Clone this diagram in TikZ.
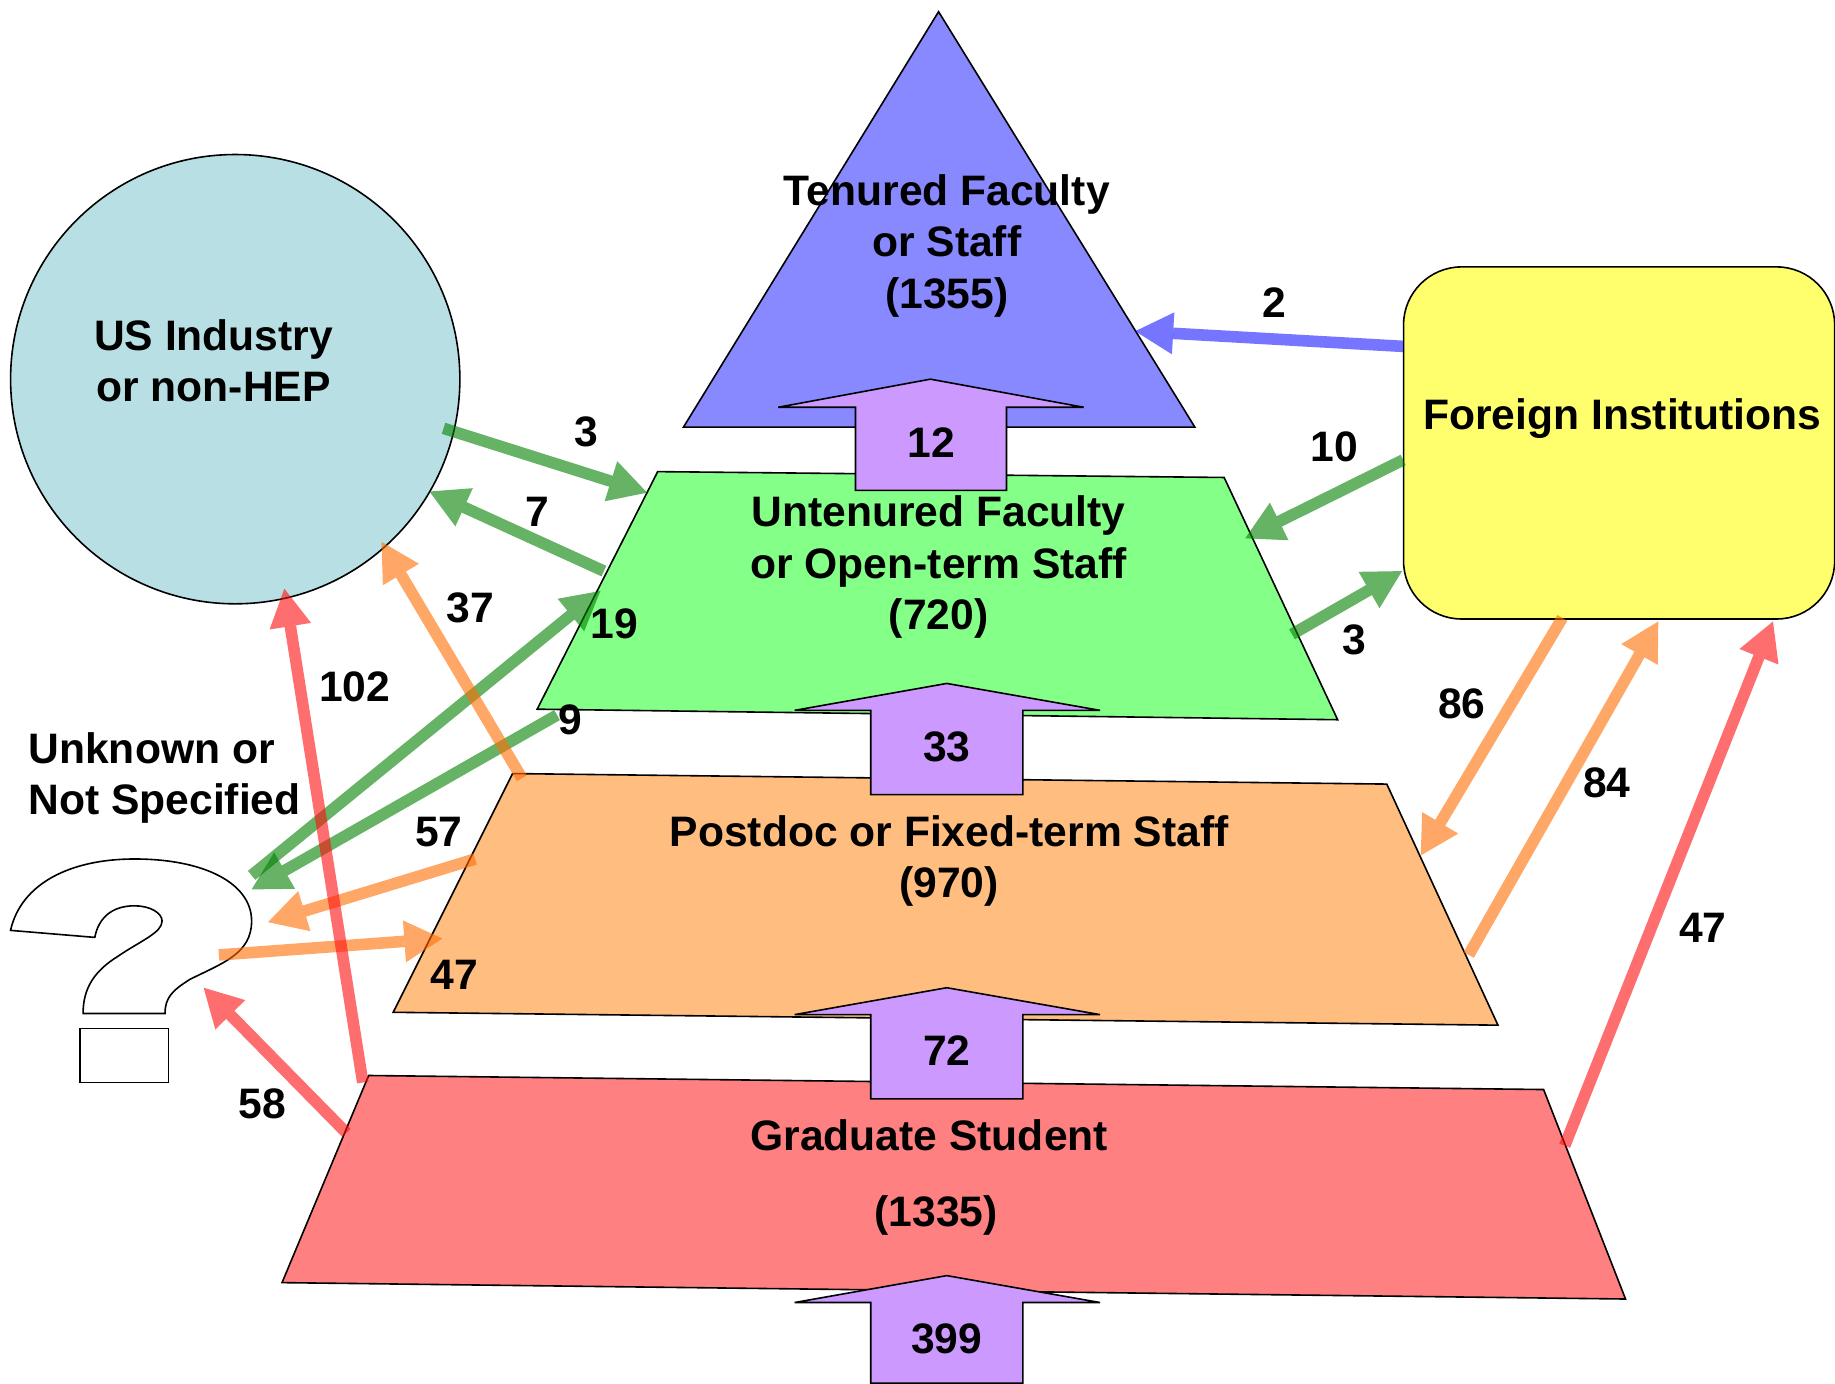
\documentclass[tikz,border=0pt]{standalone}
\usepackage{fontspec}
\setmainfont{Liberation Sans}
\usetikzlibrary{arrows.meta}
\definecolor{tierblue}{HTML}{8888FF}
\definecolor{tiergreen}{HTML}{84FF88}
\definecolor{tierorange}{HTML}{FFBD80}
\definecolor{tierred}{HTML}{FF8080}
\definecolor{stepcol}{HTML}{CC99FF}
\definecolor{indcol}{HTML}{B8E0E4}
\definecolor{forcol}{HTML}{FFFF6E}
\begin{document}
\begin{tikzpicture}[x=0.585pt,y=-0.585pt]
        \tikzstyle{every node} = [font=\bfseries\fontsize{21.3}{25.7}\selectfont, inner sep=0pt, align=center]
        \tikzstyle{tier} = [draw=black, line width=0.8pt, line join=miter]
        \tikzstyle{stepup} = [tier, fill=stepcol]
        \tikzstyle{flow} = [line width=5.8pt, opacity=.6, -{Triangle[length=19pt,width=21pt,line width=0pt]}]
        \useasboundingbox (0,0) rectangle (1568,1182);

        % tiers
        \draw[tier, fill=tierblue] (802,10) -- (1021,365) -- (584,365) -- cycle;
        \draw[tier, fill=tiergreen] (562,403) -- (1046,408) -- (1143,615) -- (459,606) -- cycle;
        \draw[tier, fill=tierorange] (438,661) -- (1185,670) -- (1280,876) -- (336,865) -- cycle;
        \draw[tier, fill=tierred] (315,919) -- (1319,931) -- (1389,1110) -- (241,1096) -- cycle;

        \node[draw, circle, fill=indcol, line width=0.8pt, minimum size=224.6pt] (industry) at (201,324) {};
        \node[draw, rectangle, rounded corners=29pt, fill=forcol, line width=0.8pt, minimum width=215.5pt, minimum height=176pt] (foreign) at (1383.5,378.5) {};

        % question mark
        \draw[tier, fill=white] (9,795) .. controls (18,755) and (60,734) .. (115,734)
            .. controls (175,734) and (215,755) .. (215,787)
            .. controls (215,815) and (190,823) .. (162,837)
            .. controls (148,846) and (141,852) .. (141,866)
            -- (71,866) .. controls (71,845) and (80,830) .. (101,817)
            .. controls (120,804) and (138.5,797) .. (138.5,787)
            .. controls (138.5,780) and (128,774) .. (115,774)
            .. controls (95,774) and (84,785) .. (81,801) -- cycle;
        \draw[tier, fill=white] (68.6,879) rectangle (144,925);

        % steps up the ladder
        \draw[stepup] (795,324) -- (926,348) -- (860,348) -- (860,419) -- (731,419) -- (731,348) -- (665,348) -- cycle;
        \draw[stepup] (809,584) -- (940,607) -- (874,607) -- (874,679) -- (744,679) -- (744,607) -- (679,607) -- cycle;
        \draw[stepup] (809,844) -- (940,867) -- (874,867) -- (874,939) -- (744,939) -- (744,867) -- (679,867) -- cycle;
        \draw[stepup] (809,1090) -- (940,1113) -- (874,1113) -- (874,1182) -- (744,1182) -- (744,1113) -- (679,1113) -- cycle;

        % ends of the flows
        \coordinate (fa) at (1199,296);  \coordinate (ta) at (970,283);
        \coordinate (fb) at (1199,393);  \coordinate (tb) at (1064,460);
        \coordinate (fc) at (1104,542);  \coordinate (tc) at (1198,488);
        \coordinate (fd) at (379,366);   \coordinate (td) at (553,421);
        \coordinate (fe) at (516,488);   \coordinate (te) at (367,420);
        \coordinate (ff) at (215,748);   \coordinate (tf) at (513,505);
        \coordinate (fg) at (476,611);   \coordinate (tg) at (215,760);
        \coordinate (fh) at (446,665);   \coordinate (th) at (326,463);
        \coordinate (fi) at (406,734);   \coordinate (ti) at (229,788);
        \coordinate (fj) at (187,816);   \coordinate (tj) at (378,802);
        \coordinate (fk) at (1335,528);  \coordinate (tk) at (1214,731);
        \coordinate (fl) at (1255,816);  \coordinate (tl) at (1417,531);
        \coordinate (fm) at (310,925);   \coordinate (tm) at (243,503);
        \coordinate (fn) at (296,968);   \coordinate (tn) at (174,844);
        \coordinate (fo) at (1337,979);  \coordinate (to) at (1515,531);

        \draw[flow, color=blue!90!white] (fa) -- (ta);
        \foreach \from/\to in {fb/tb, fc/tc, fd/td, fe/te, ff/tf, fg/tg}
            \draw[flow, color=green!50!black] (\from) -- (\to);
        \foreach \from/\to in {fh/th, fi/ti, fj/tj, fk/tk, fl/tl}
            \draw[flow, color=orange!85!red] (\from) -- (\to);
        \foreach \from/\to in {fm/tm, fn/tn, fo/to}
            \draw[flow, color=red!95!white] (\from) -- (\to);

        % names of the tiers
        \node (tenured) at (809,210) {Tenured Faculty\\or Staff\\(1355)};
        \node (untenured) at (802,484.5) {Untenured Faculty\\or Open-term Staff\\(720)};
        \node (postdoc) at (811,735.5) {Postdoc or Fixed-term Staff\\(970)};
        \node (grad) at (794,970) {Graduate Student};
        \node (gradnum) at (800,1038.5) {(1335)};
        \node (usname) at (182.5,308.5) {US Industry\\or non-HEP};
        \node (forname) at (1386,358) {Foreign Institutions};
        \node[align=left, anchor=west] (unknown) at (24,665) {Unknown or\\Not Specified};

        % counts
        \node (n12) at (796,378) {12};
        \node (n33) at (809,638) {33};
        \node (n72) at (809,898) {72};
        \node (n399) at (809,1144) {399};
        \node (na) at (1089,259) {2};
        \node (nb) at (1140,382) {10};
        \node (nc) at (1157,547) {3};
        \node (nd) at (501,369) {3};
        \node (ne) at (459.5,437) {7};
        \node (nf) at (525,533) {19};
        \node (ng) at (487,615) {9};
        \node (nh) at (402,519) {37};
        \node (ni) at (375,711) {57};
        \node (nj) at (388,833) {47};
        \node (nk) at (1249,601) {86};
        \node (nl) at (1373,669) {84};
        \node (nm) at (303,587) {102};
        \node (nn) at (224,943) {58};
        \node (no) at (1455,793) {47};
\end{tikzpicture}
\end{document}
